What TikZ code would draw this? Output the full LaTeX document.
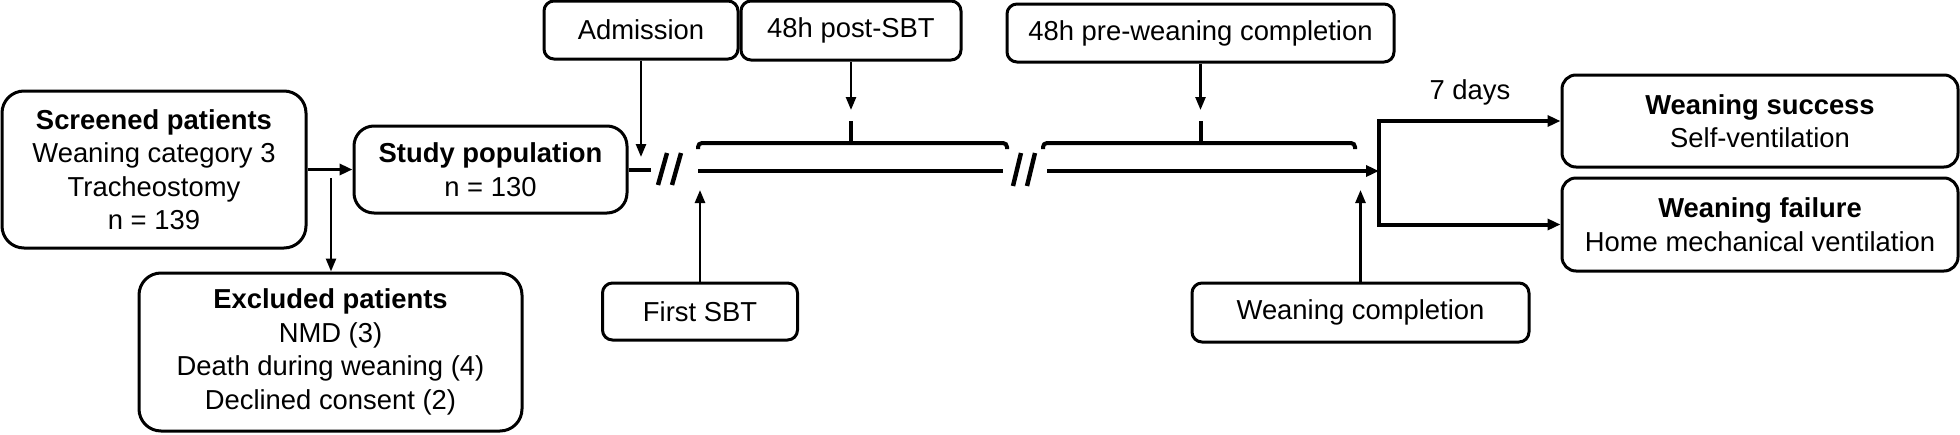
\documentclass[tikz,border=0pt]{standalone}
\usepackage{fontspec}
\setmainfont{Liberation Sans}
\usetikzlibrary{arrows.meta}
\begin{document}
\begin{tikzpicture}[x=0.5pt,y=-0.5pt,
  rbox/.style={draw, line width=1.5pt, rounded corners=11pt, align=center, inner sep=0pt,
    font=\fontsize{13.7}{16.75}\selectfont},
  mbox/.style={rbox, rounded corners=7pt},
  sbox/.style={rbox, rounded corners=5pt},
  evarrow/.style={line width=1.25pt, -{Triangle[length=6.5pt,width=5pt]}},
  mainarrow/.style={line width=1.7pt, -{Triangle[length=6.5pt,width=5.5pt]}},
  tl/.style={line width=2pt},
  tlarrow/.style={line width=2pt, -{Triangle[length=6.5pt,width=5.5pt]}},
  brk/.style={line width=2.2pt},
  lbl/.style={font=\fontsize{13.7}{16.75}\selectfont, inner sep=0pt}
]
\useasboundingbox (0,0) rectangle (1960,434);

% boxes
\node[rbox, minimum width=152pt, minimum height=78.5pt] (scr) at (154,169.5)
  {\textbf{Screened patients}\\Weaning category 3\\Tracheostomy\\n = 139};
\node[rbox, rounded corners=10pt, minimum width=136.5pt, minimum height=43.5pt] (stu) at (490.5,169.5)
  {\textbf{Study population}\\n = 130};
\node[rbox, minimum width=191.5pt, minimum height=79pt] (exc) at (330.5,352)
  {\textbf{Excluded patients}\\NMD (3)\\Death during weaning (4)\\Declined consent (2)};
\node[sbox, minimum width=97pt, minimum height=29pt] (adm) at (641,30) {Admission};
\node[sbox, minimum width=110pt, minimum height=29.5pt] (post) at (851,30.5) {48h post-SBT};
\node[sbox, minimum width=193.5pt, minimum height=29pt] (pre) at (1200.5,33) {48h pre-weaning completion};
\node[sbox, minimum width=97.5pt, minimum height=28.5pt] (fsbt) at (700,311.5) {First SBT};
\node[sbox, minimum width=168.5pt, minimum height=29.5pt] (wcomp) at (1360.5,312.5) {Weaning completion};
\node[mbox, minimum width=198pt, minimum height=46pt] (succ) at (1760,121)
  {\textbf{Weaning success}\\Self-ventilation};
\node[mbox, minimum width=198pt, minimum height=46.5pt] (fail) at (1760,224.5)
  {\textbf{Weaning failure}\\Home mechanical ventilation};
\node[lbl] (days) at (1470,92) {7 days};

% screened -> study, excluded
\draw[mainarrow] (scr.east) -- (stu.west);
\coordinate (exs) at (331,178);
\draw[evarrow] (exs) -- (exs |- exc.north);

% study -> break
\coordinate (b1) at (651,169.5);
\draw[tl] (stu.east) -- (b1);
\draw[brk] (667,153) -- (658,185);
\draw[brk] (681,153) -- (672,185);

% timeline
\coordinate (t1s) at (698,171);
\coordinate (t1e) at (1003,171);
\coordinate (t2s) at (1047,171);
\coordinate (br) at (1379,171);
\draw[tl] (t1s) -- (t1e);
\draw[brk] (1021,153) -- (1013,186);
\draw[brk] (1035,153) -- (1027,186);
\draw[tlarrow] (t2s) -- (br);

% brackets
\draw[tl, rounded corners=2pt] (698,149) -- (698,143) -- (1007,143) -- (1007,149);
\draw[tl, rounded corners=2pt] (1043,149) -- (1043,143) -- (1355,143) -- (1355,149);
\coordinate (k1) at (851,143);
\coordinate (k2) at (1200.5,143);
\draw[tl] (k1) -- ++(0,-22);
\draw[tl] (k2) -- ++(0,-22);

% event arrows from top
\coordinate (admtip) at (641,157);
\draw[evarrow] (adm.south) -- (admtip);
\draw[evarrow] (post.south) -- (post.south |- 0,110);
\draw[evarrow] (pre.south) -- (pre.south |- 0,110);

% event arrows from bottom
\draw[evarrow] (fsbt.north) -- (fsbt.north |- 0,190);
\draw[evarrow] (wcomp.north) -- (wcomp.north |- 0,190);

% branches
\draw[mainarrow, line width=2pt] (br) |- (succ.west);
\draw[mainarrow, line width=2pt] (br) |- (fail.west);
\end{tikzpicture}
\end{document}
